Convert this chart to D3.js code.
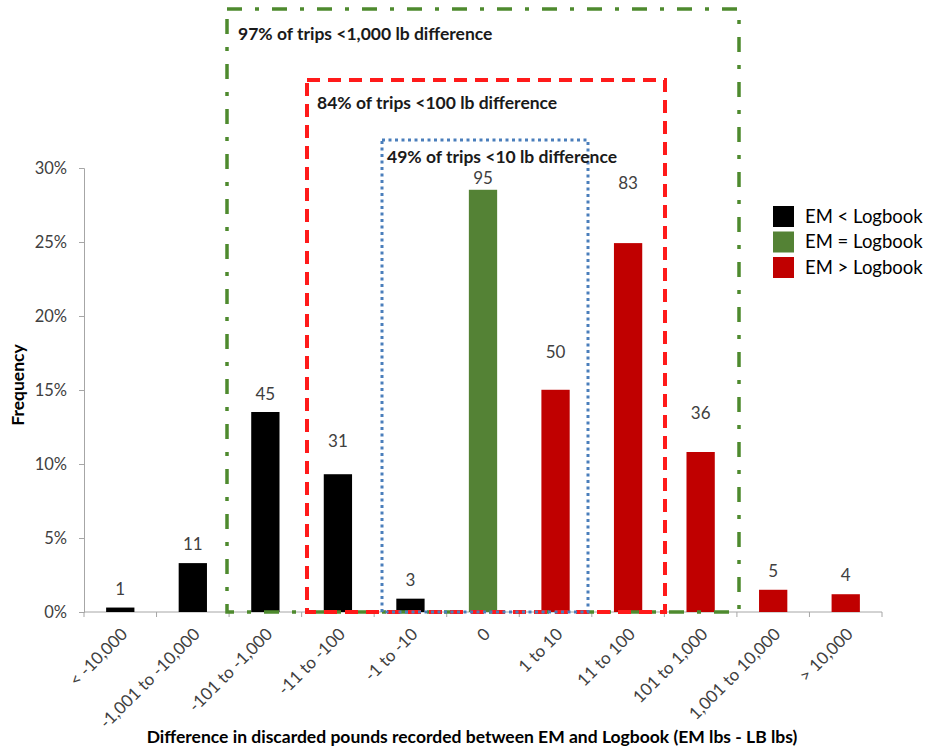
<!DOCTYPE html>
<html>
<head>
<meta charset="utf-8">
<script src="https://cdn.jsdelivr.net/npm/d3@7"></script>
<style>
  html, body { margin: 0; padding: 0; background: #fff; }
  svg { display: block; font-family: Lato, "Open Sans", sans-serif; }
</style>
</head>
<body>
<svg id="chart" width="927" height="753"></svg>
<script>
// Difference bins (EM lbs - logbook lbs)
const categories = ["< -10,000", "-1,001 to -10,000", "-101 to -1,000", "-11 to -100", "-1 to -10",
                    "0", "1 to 10", "11 to 100", "101 to 1,000", "1,001 to 10,000", "> 10,000"];
// Number of trips in each bin
const tripCounts = [1, 11, 45, 31, 3, 95, 50, 83, 36, 5, 4];
// Which side of the logbook each bin falls on
const binGroups = ["lt", "lt", "lt", "lt", "lt", "eq", "gt", "gt", "gt", "gt", "gt"];
const totalTrips = 333;
const yTickValues = [0, 0.05, 0.10, 0.15, 0.20, 0.25, 0.30];
const legendKeys = ["lt", "eq", "gt"];
const legendLabels = ["EM < Logbook", "EM = Logbook", "EM > Logbook"];

// Layout / styling
const colors = { lt: "#000000", eq: "#548235", gt: "#c00000" };
const labelLift = [13, 13, 12, 27, 13, 6, 32, 54, 33, 13, 13]; // gap between bar top and count label
const plotLeft = 84, plotRight = 882, plotTop = 168, plotBottom = 612;

const svg = d3.select("#chart");

const x = d3.scaleBand().domain(categories).range([plotLeft, plotRight]).padding(0);
const y = d3.scaleLinear().domain([0, 0.30]).range([plotBottom, plotTop]);
const barW = x.bandwidth() * 0.39;

const data = categories.map((c, i) => ({
  cat: c, count: tripCounts[i], group: binGroups[i], freq: tripCounts[i] / totalTrips, lift: labelLift[i]
}));

// Y axis
const yAxis = svg.append("g").attr("transform", `translate(${plotLeft},0)`)
  .call(d3.axisLeft(y).tickValues(yTickValues).tickFormat(d3.format(".0%")).tickSize(5).tickPadding(12));
yAxis.select(".domain").attr("stroke", "#a6a6a6");
yAxis.selectAll(".tick line").attr("stroke", "#a6a6a6");
yAxis.selectAll(".tick text").attr("fill", "#404040").style("font-size", "16.5px")
  .style("font-family", "Lato, 'Open Sans', sans-serif");

// X axis: ticks at bin boundaries
const xAxis = svg.append("g").attr("transform", `translate(0,${plotBottom})`);
xAxis.append("line").attr("x1", plotLeft).attr("x2", plotRight).attr("stroke", "#a6a6a6");
const bounds = categories.map(c => x(c)).concat([plotRight]);
xAxis.selectAll("line.tk").data(bounds).join("line").attr("class", "tk")
  .attr("x1", d => d).attr("x2", d => d).attr("y1", 0).attr("y2", 5).attr("stroke", "#a6a6a6");
xAxis.selectAll("text").data(categories).join("text")
  .attr("transform", d => `translate(${x(d) + x.bandwidth() / 2 + 4},${19}) rotate(-45)`)
  .attr("text-anchor", "end")
  .attr("dy", "0.35em")
  .attr("fill", "#404040")
  .style("font-size", "17px")
  .text(d => d);

// Bars
svg.append("g").selectAll("rect").data(data).join("rect")
  .attr("x", d => x(d.cat) + (x.bandwidth() - barW) / 2)
  .attr("width", barW)
  .attr("y", d => y(d.freq))
  .attr("height", d => y(0) - y(d.freq))
  .attr("fill", d => colors[d.group]);

// Count labels
svg.append("g").selectAll("text").data(data).join("text")
  .attr("x", d => x(d.cat) + x.bandwidth() / 2)
  .attr("y", d => y(d.freq) - d.lift)
  .attr("text-anchor", "middle")
  .attr("fill", "#404040")
  .style("font-size", "17px")
  .text(d => d.count);

// Range boxes around the central bins
const boxes = [
  { x0: 227, x1: 739, y0: 9,   color: "#4e8a2e", width: 3.5, dash: "15,13,4,13", text: "97% of trips <1,000 lb difference", tx: 238, ty: 40 },
  { x0: 307, x1: 665, y0: 80,  color: "#ff1a1a", width: 4,   dash: "13,8",        text: "84% of trips <100 lb difference",   tx: 317, ty: 109 },
  { x0: 382, x1: 588, y0: 140, color: "#4a7ebb", width: 3,   dash: "3,3.5",       text: "49% of trips <10 lb difference",    tx: 387, ty: 163 }
];
const boxG = svg.append("g");
boxG.selectAll("rect").data(boxes).join("rect")
  .attr("x", d => d.x0).attr("y", d => d.y0)
  .attr("width", d => d.x1 - d.x0).attr("height", d => plotBottom - d.y0)
  .attr("fill", "none").attr("stroke", d => d.color)
  .attr("stroke-width", d => d.width).attr("stroke-dasharray", d => d.dash);
boxG.selectAll("text").data(boxes).join("text")
  .attr("x", d => d.tx).attr("y", d => d.ty)
  .attr("fill", "#1a1a1a").style("font-size", "17.5px").style("font-weight", "bold")
  .text(d => d.text);

// Axis titles
svg.append("text")
  .attr("transform", `translate(24,${(plotTop + plotBottom) / 2 - 5}) rotate(-90)`)
  .attr("text-anchor", "middle")
  .style("font-size", "17.5px").style("font-weight", "bold").attr("fill", "#000")
  .text("Frequency");
svg.append("text")
  .attr("x", 472).attr("y", 743)
  .attr("text-anchor", "middle")
  .style("font-size", "17.5px").style("font-weight", "bold").attr("fill", "#000")
  .text("Difference in discarded pounds recorded between EM and Logbook (EM lbs - LB lbs)");

// Legend
const legend = svg.append("g").selectAll("g").data(legendKeys).join("g")
  .attr("transform", (d, i) => `translate(773,${206 + i * 25.5})`);
legend.append("rect").attr("width", 21).attr("height", 21).attr("fill", d => colors[d]);
legend.append("text").attr("x", 32).attr("y", 10.5).attr("dy", "0.35em")
  .attr("fill", "#000").style("font-size", "18.5px")
  .text((d, i) => legendLabels[i]);
</script>
</body>
</html>
